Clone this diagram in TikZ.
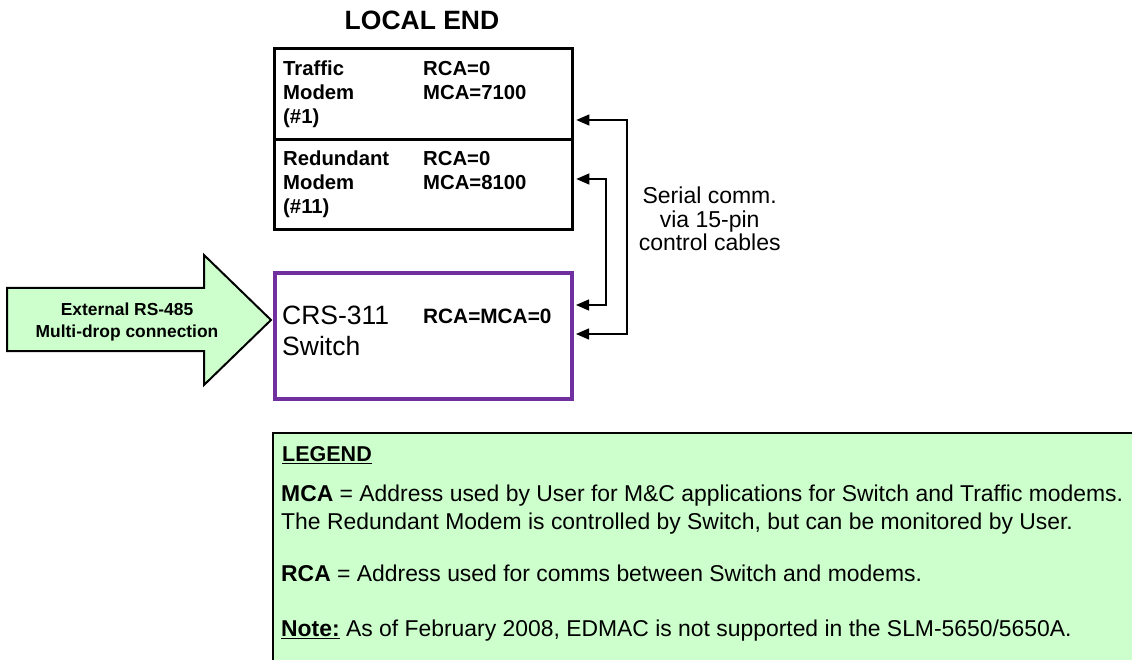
\documentclass[tikz,border=0pt]{standalone}
\usepackage{fontspec}
\setmainfont{Liberation Sans}
\usetikzlibrary{arrows.meta}
\definecolor{lgreen}{HTML}{CCFFCC}
\definecolor{swpurple}{HTML}{7030A0}
\newcommand{\lcol}[1]{\begin{tabular}[t]{@{}l@{}}#1\end{tabular}}
\newcommand{\ccol}[1]{\begin{tabular}[t]{@{}c@{}}#1\end{tabular}}
\tikzset{
  modembox/.style={draw=black, line width=3.3pt, minimum width=298pt, inner sep=0pt, anchor=north west},
  swbox/.style={draw=swpurple, line width=4pt, minimum width=297pt, minimum height=126pt, inner sep=0pt, anchor=north west},
  boxtxt/.style={inner sep=0pt, anchor=base west, font=\bfseries\fontsize{20.3}{24}\selectfont},
  legtxt/.style={inner sep=0pt, anchor=base west, font=\fontsize{22.9}{28}\selectfont},
  conn/.style={line width=1.3pt, {Triangle[length=13pt,width=11pt]}-{Triangle[length=13pt,width=11pt]}, shorten <=2pt, shorten >=2pt},
}
\begin{document}
\begin{tikzpicture}[x=1pt, y=-1pt]
\useasboundingbox (0,0) rectangle (1132,660);
% title
\node[inner sep=0pt, anchor=base, font=\bfseries\fontsize{26.5}{30}\selectfont] (title) at (422,29.3) {LOCAL END};
% modem boxes
\node[modembox, minimum height=91pt] (tm) at (273,47) {};
\node[modembox, minimum height=90pt] (rm) at (273,138) {};
\node[boxtxt] (tml) at (283,76) {\lcol{Traffic\\Modem\\(\#1)}};
\node[boxtxt] (tmr) at (423,76) {\lcol{RCA=0\\MCA=7100}};
\node[boxtxt] (rml) at (283,166) {\lcol{Redundant\\Modem\\(\#11)}};
\node[boxtxt] (rmr) at (423,166) {\lcol{RCA=0\\MCA=8100}};
% switch
\node[swbox] (sw) at (273,271) {};
\node[inner sep=0pt, anchor=base west, font=\fontsize{26.5}{31}\selectfont] (swl) at (282,324) {\lcol{CRS-311\\Switch}};
\node[inner sep=0pt, anchor=base west, font=\bfseries\fontsize{20.8}{24}\selectfont] (swr) at (423,323.3) {RCA=MCA=0};
% external arrow
\draw[line width=2pt, fill=lgreen, line join=miter] (7,288) -- (204,288) -- (204,255) -- (271,320) -- (204,385) -- (204,351) -- (7,351) -- cycle;
\node[inner sep=0pt, anchor=base, font=\bfseries\fontsize{17.4}{22}\selectfont] (ext) at (127,315) {\ccol{External RS-485\\Multi-drop connection}};
% connectors
\coordinate (k1) at (627,120);
\coordinate (k2) at (627,334);
\coordinate (k3) at (606,179);
\coordinate (k4) at (606,305);
\draw[conn] (tm.east |- k1) -- (k1) -- (k2) -- (sw.east |- k2);
\draw[conn] (rm.east |- k3) -- (k3) -- (k4) -- (sw.east |- k4);
\node[inner sep=0pt, anchor=base, font=\fontsize{23}{23.5}\selectfont] (serial) at (709.7,203.3) {\ccol{Serial comm.\\via 15-pin\\control cables}};
% legend
\node[draw=black, line width=2pt, fill=lgreen, minimum width=880pt, minimum height=250pt, inner sep=0pt, anchor=north west] (legend) at (272,432) {};
\node[inner sep=0pt, anchor=base west, font=\bfseries\fontsize{21.5}{24}\selectfont] (lgh) at (282,461.7) {\underline{LEGEND}};
\node[legtxt] (lg1) at (281,501.7) {\lcol{\textbf{MCA} = Address used by User for M\&C applications for Switch and Traffic modems.\\The Redundant Modem is controlled by Switch, but can be monitored by User.}};
\node[legtxt] (lg2) at (281,581.7) {\textbf{RCA} = Address used for comms between Switch and modems.};
\node[legtxt] (lg3) at (281,636.7) {\textbf{\underline{Note:}} As of February 2008, EDMAC is not supported in the SLM-5650/5650A.};
\end{tikzpicture}
\end{document}
